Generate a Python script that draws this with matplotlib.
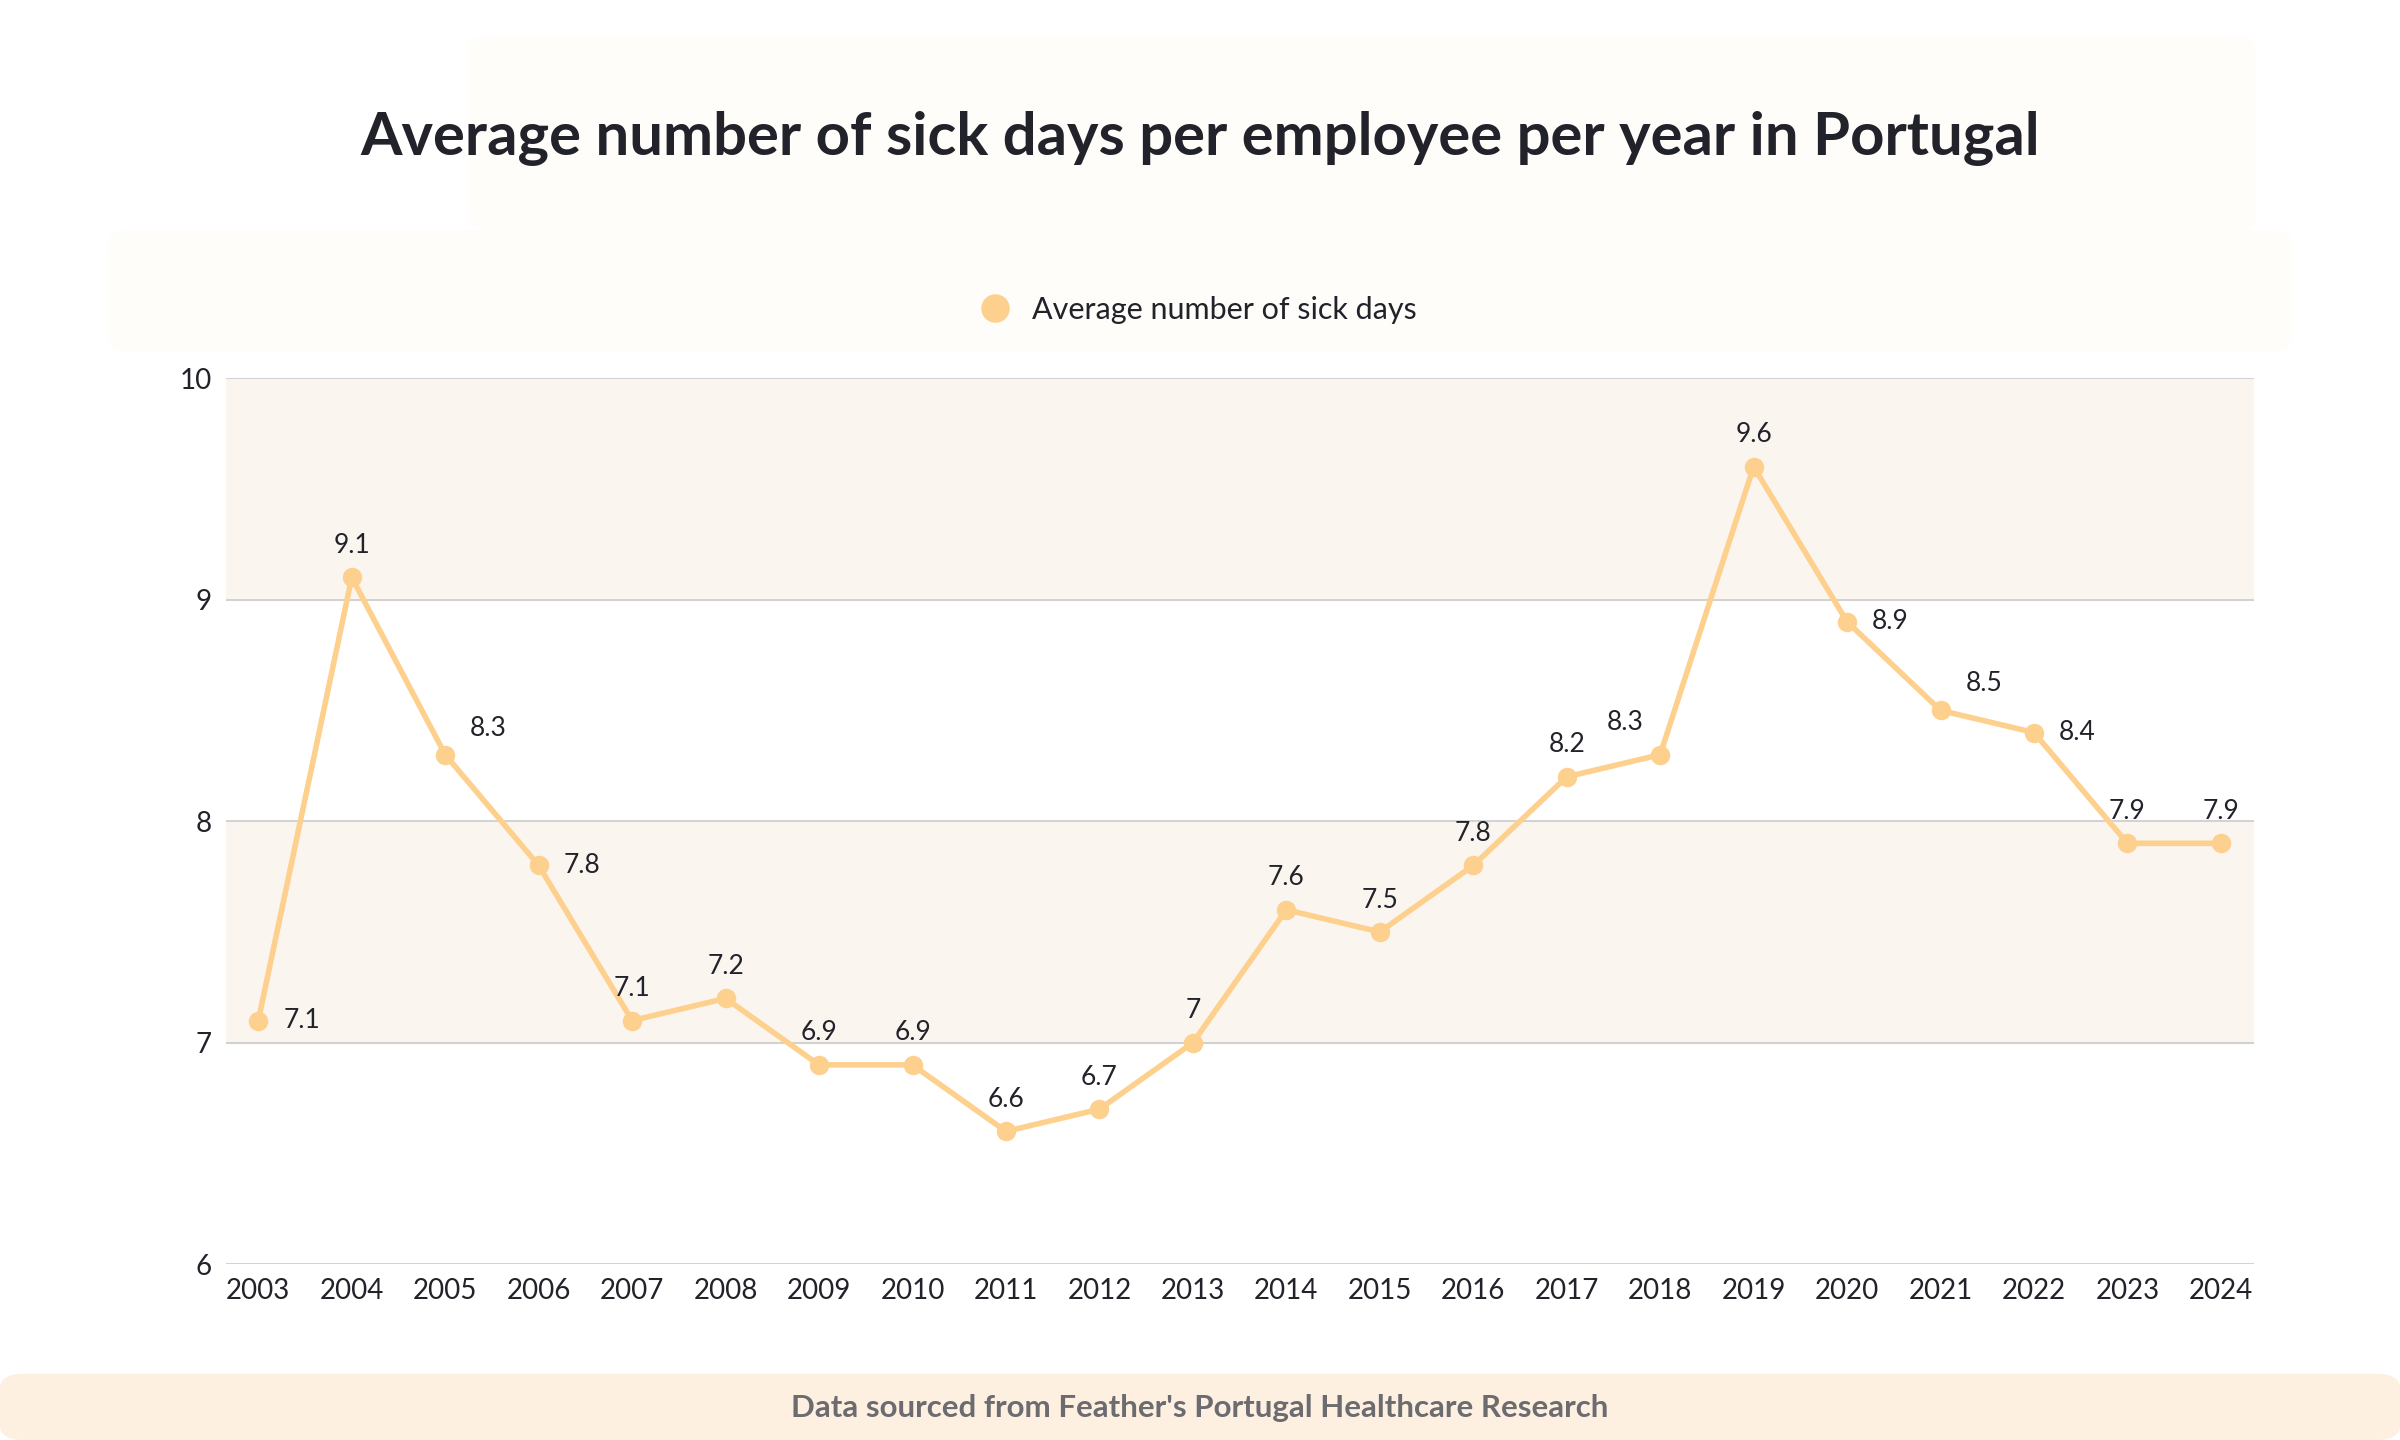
import matplotlib.pyplot as plt
from matplotlib.patches import FancyBboxPatch

years = [str(y) for y in range(2003, 2025)]
sick_days = [7.1, 9.1, 8.3, 7.8, 7.1, 7.2, 6.9, 6.9, 6.6, 6.7, 7.0,
             7.6, 7.5, 7.8, 8.2, 8.3, 9.6, 8.9, 8.5, 8.4, 7.9, 7.9]
value_text = ["7.1", "9.1", "8.3", "7.8", "7.1", "7.2", "6.9", "6.9", "6.6", "6.7", "7",
              "7.6", "7.5", "7.8", "8.2", "8.3", "9.6", "8.9", "8.5", "8.4", "7.9", "7.9"]
label_pos = ["r", "t", "ru", "r", "t", "t", "t", "t", "t", "t", "t",
             "t", "t", "t", "t", "tl", "t", "r", "ru", "r", "t", "t"]

plt.rcParams['font.family'] = ['Lato', 'DejaVu Sans']
line_col = '#fed08e'
text_col = '#22222a'

fig = plt.figure(figsize=(24, 14.4), dpi=100)
fig.patch.set_facecolor('white')

# background panels
fig.patches.append(FancyBboxPatch((0.195, 0.84), 0.745, 0.135, boxstyle="round,pad=0,rounding_size=0.01",
                                  transform=fig.transFigure, fc='#fffdf9', ec='none', zorder=0))
fig.patches.append(FancyBboxPatch((0.045, 0.755), 0.91, 0.085, boxstyle="round,pad=0,rounding_size=0.01",
                                  transform=fig.transFigure, fc='#fffdf9', ec='none', zorder=0))
# footer
fig.patches.append(FancyBboxPatch((0.0, 0.0), 1.0, 0.046, boxstyle="round,pad=0,rounding_size=0.01",
                                  transform=fig.transFigure, fc='#fdf0e0', ec='none', zorder=0))
fig.text(0.5, 0.022, "Data sourced from Feather's Portugal Healthcare Research", ha='center', va='center',
         fontsize=22.5, fontweight='bold', color='#6b6b70')

fig.text(0.5, 0.904, "Average number of sick days per employee per year in Portugal", ha='center', va='center',
         fontsize=43, fontweight='bold', color=text_col)

ax = fig.add_axes([0.094, 0.122, 0.845, 0.6155])
ax.set_facecolor('none')
x = list(range(len(years)))
ax.axhspan(7, 8, color='#faf5ee', zorder=0)
ax.axhspan(9, 10, color='#faf5ee', zorder=0)
for y in [6, 7, 8, 9, 10]:
    ax.axhline(y, color='#cfcfcf', lw=1.3, zorder=1)

line, = ax.plot(x, sick_days, color=line_col, lw=4, marker='o', ms=13, zorder=3, label='Average number of sick days')

for xi, v, t, p in zip(x, sick_days, value_text, label_pos):
    if p == 'r':
        ax.annotate(t, (xi, v), xytext=(18, 0), textcoords='offset points', ha='left', va='center', fontsize=19, color=text_col)
    elif p == 'ru':
        ax.annotate(t, (xi, v), xytext=(18, 10), textcoords='offset points', ha='left', va='bottom', fontsize=19, color=text_col)
    elif p == 'tl':
        ax.annotate(t, (xi, v), xytext=(-12, 14), textcoords='offset points', ha='right', va='bottom', fontsize=19, color=text_col)
    else:
        ax.annotate(t, (xi, v), xytext=(0, 14), textcoords='offset points', ha='center', va='bottom', fontsize=19, color=text_col)

ax.set_xlim(-0.35, len(years) - 0.65)
ax.set_ylim(6, 10)
ax.set_yticks([6, 7, 8, 9, 10])
ax.set_xticks(x)
ax.set_xticklabels(years)
ax.tick_params(axis='both', length=0, labelsize=20, colors=text_col, pad=10)
for s in ax.spines.values():
    s.set_visible(False)

leg = fig.legend(handles=[line], loc='center', bbox_to_anchor=(0.5, 0.785), frameon=False,
                 fontsize=22, handlelength=0.8, markerscale=1.5, labelcolor=text_col)
for h in leg.legend_handles:
    h.set_linestyle('none')

fig.savefig('out.png', dpi=100)
